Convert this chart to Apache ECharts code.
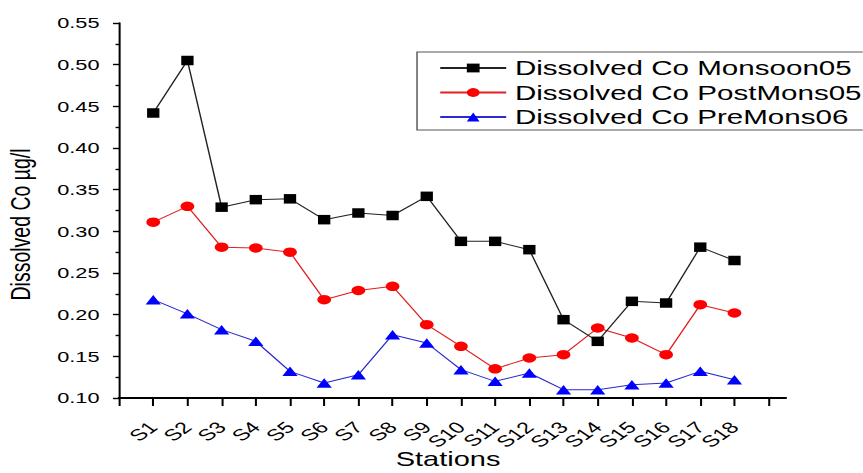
<!DOCTYPE html>
<html>
<head>
<meta charset="utf-8">
<script src="https://cdn.jsdelivr.net/npm/echarts@6/dist/echarts.min.js"></script>
<style>
  html, body { margin: 0; padding: 0; background: #fff; overflow: hidden; }
  /* the figure is laid out narrow and widened horizontally */
  #chart { width: 595.17px; height: 473px; transform: scaleX(1.45); transform-origin: 0 0; }
</style>
</head>
<body>
<div id="chart"></div>
<script>
const stations = ['S1','S2','S3','S4','S5','S6','S7','S8','S9','S10','S11','S12','S13','S14','S15','S16','S17','S18'];

const monsoon05 = [0.442, 0.505, 0.329, 0.338, 0.339, 0.314, 0.322, 0.319, 0.342, 0.288, 0.288, 0.278, 0.194, 0.168, 0.216, 0.214, 0.281, 0.265];
const postMons05 = [0.311, 0.330, 0.281, 0.280, 0.275, 0.218, 0.229, 0.234, 0.188, 0.162, 0.135, 0.148, 0.152, 0.184, 0.172, 0.152, 0.212, 0.202];
const preMons06 = [0.218, 0.201, 0.182, 0.168, 0.132, 0.118, 0.128, 0.176, 0.166, 0.134, 0.120, 0.130, 0.110, 0.110, 0.116, 0.118, 0.132, 0.122];

const yTicks = ['0.10','0.15','0.20','0.25','0.30','0.35','0.40','0.45','0.50','0.55'];

const FONT = '"Liberation Sans", Arial, sans-serif';

// station i sits at position i+1 on the x scale
const toPoints = vals => vals.map((v, i) => [i + 1, v]);
const tickPositions = Array.from({ length: stations.length + 2 }, (_, i) => i);
const labelPositions = stations.map((_, i) => i + 1);

const chart = echarts.init(document.getElementById('chart'), null, { renderer: 'svg' });

chart.setOption({
  animation: false,
  backgroundColor: '#fff',
  grid: { left: 82.1, right: 53.1, top: 23, bottom: 75, containLabel: false, outerBoundsMode: 'none' },
  legend: {
    orient: 'vertical',
    left: 287.6,
    top: 52,
    padding: [6, 6, 3, 15],
    itemWidth: 45.5,
    itemHeight: 11,
    itemGap: 4.5,
    borderColor: '#555',
    borderWidth: 1,
    textStyle: { fontFamily: FONT, fontSize: 20.4, color: '#000', padding: [0, 0, 0, 1] }
  },
  xAxis: {
    type: 'value',
    min: 0,
    max: stations.length + 1.5,
    name: 'Stations',
    nameLocation: 'middle',
    nameGap: 51,
    nameMoveOverlap: false,
    nameTextStyle: { fontFamily: FONT, fontSize: 20, lineHeight: 20, color: '#000', padding: [0, 6, 0, 0] },
    axisLine: { show: true, lineStyle: { color: '#000', width: 2 } },
    axisTick: { show: true, inside: false, length: 8, lineStyle: { color: '#000', width: 1.4 }, customValues: tickPositions },
    axisLabel: {
      rotate: 45,
      margin: 26.5,
      fontFamily: FONT,
      fontSize: 16,
      color: '#000',
      customValues: labelPositions,
      formatter: v => stations[Math.round(v) - 1] || ''
    },
    splitLine: { show: false }
  },
  yAxis: {
    type: 'value',
    min: 0.10,
    max: 0.55,
    interval: 0.05,
    name: 'Dissolved Co µg/l',
    nameLocation: 'middle',
    nameGap: 58,
    nameRotate: 90,
    nameMoveOverlap: false,
    nameTextStyle: { fontFamily: FONT, fontSize: 19.5, color: '#000', padding: [0, 28, 0, 0] },
    axisLine: { show: true, lineStyle: { color: '#000', width: 1.4 } },
    axisTick: { show: true, inside: false, length: 4.2, lineStyle: { color: '#000', width: 1.4 } },
    minorTick: { show: true, splitNumber: 2, length: 2.4, lineStyle: { color: '#000', width: 1.4 } },
    axisLabel: {
      margin: 13.5,
      fontFamily: FONT,
      fontSize: 15,
      color: '#000',
      formatter: v => yTicks[Math.round((v - 0.10) / 0.05)] || v.toFixed(2)
    },
    splitLine: { show: false }
  },
  series: [
    {
      name: 'Dissolved Co Monsoon05',
      type: 'line',
      data: toPoints(monsoon05),
      symbol: 'rect',
      symbolSize: [8.5, 9.5],
      lineStyle: { color: '#222', width: 1 },
      itemStyle: { color: '#000' },
      z: 4
    },
    {
      name: 'Dissolved Co PostMons05',
      type: 'line',
      data: toPoints(postMons05),
      symbol: 'circle',
      symbolSize: 9.5,
      lineStyle: { color: '#e02020', width: 1 },
      itemStyle: { color: '#ff0000' },
      z: 3
    },
    {
      name: 'Dissolved Co PreMons06',
      type: 'line',
      data: toPoints(preMons06),
      symbol: 'triangle',
      symbolSize: [10.5, 9.5],
      lineStyle: { color: '#2a2ad0', width: 1 },
      itemStyle: { color: '#0000ff' },
      z: 2
    }
  ]
});
</script>
</body>
</html>
